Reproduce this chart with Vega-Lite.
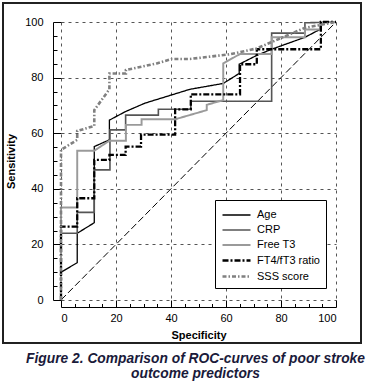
{
  "$schema": "https://vega.github.io/schema/vega-lite/v6.json",
  "width": 275,
  "height": 278,
  "autosize": {"type": "none"},
  "padding": {"left": 61, "top": 22, "right": 30, "bottom": 90},
  "background": "white",
  "config": {
    "view": {"stroke": null},
    "font": "Liberation Sans",
    "axis": {"labelFont": "Liberation Sans", "titleFont": "Liberation Sans", "labelColor": "black", "titleColor": "black"},
    "legend": {"strokeColor": "black", "fillColor": "white"}
  },
  "title": {
    "text": ["Figure 2. Comparison of ROC-curves of poor stroke", "outcome predictors"],
    "orient": "bottom",
    "anchor": "middle",
    "offset": 8,
    "dx": -3,
    "font": "Liberation Sans",
    "fontSize": 13.8,
    "fontStyle": "italic",
    "fontWeight": "bold",
    "color": "#1a1a3a",
    "lineHeight": 14.5
  },
  "datasets": {
    "roc": [
      {"s":"Age","i":0,"x":0,"y":0},{"s":"Age","i":1,"x":0,"y":10},{"s":"Age","i":2,"x":5.9,"y":13.4},{"s":"Age","i":3,"x":5.9,"y":24},{"s":"Age","i":4,"x":12.1,"y":27.8},{"s":"Age","i":5,"x":12.1,"y":55.2},{"s":"Age","i":6,"x":17.6,"y":57.6},{"s":"Age","i":7,"x":17.6,"y":64.7},{"s":"Age","i":8,"x":23.3,"y":67.7},{"s":"Age","i":9,"x":30.5,"y":70.8},{"s":"Age","i":10,"x":46.9,"y":75.8},{"s":"Age","i":11,"x":59,"y":77.9},{"s":"Age","i":12,"x":64.8,"y":81.5},{"s":"Age","i":13,"x":64.8,"y":84.8},{"s":"Age","i":14,"x":71.2,"y":88},{"s":"Age","i":15,"x":76.6,"y":90.2},{"s":"Age","i":16,"x":88.7,"y":94.5},{"s":"Age","i":17,"x":94.5,"y":97.5},{"s":"Age","i":18,"x":94.5,"y":100},{"s":"Age","i":19,"x":100,"y":100},
      {"s":"CRP","i":0,"x":0,"y":0},{"s":"CRP","i":1,"x":0,"y":24},{"s":"CRP","i":2,"x":5.9,"y":24},{"s":"CRP","i":3,"x":5.9,"y":31.5},{"s":"CRP","i":4,"x":12.1,"y":31.5},{"s":"CRP","i":5,"x":12.1,"y":46.8},{"s":"CRP","i":6,"x":17.8,"y":46.8},{"s":"CRP","i":7,"x":17.8,"y":61.2},{"s":"CRP","i":8,"x":23.5,"y":61.2},{"s":"CRP","i":9,"x":23.5,"y":66.5},{"s":"CRP","i":10,"x":35.4,"y":66.5},{"s":"CRP","i":11,"x":35.4,"y":68.6},{"s":"CRP","i":12,"x":47.2,"y":68.6},{"s":"CRP","i":13,"x":47.2,"y":71.5},{"s":"CRP","i":14,"x":76.6,"y":71.5},{"s":"CRP","i":15,"x":76.6,"y":96},{"s":"CRP","i":16,"x":88.7,"y":96},{"s":"CRP","i":17,"x":88.7,"y":99.7},{"s":"CRP","i":18,"x":100,"y":100},
      {"s":"Free T3","i":0,"x":0,"y":0},{"s":"Free T3","i":1,"x":0,"y":33.3},{"s":"Free T3","i":2,"x":5.9,"y":33.3},{"s":"Free T3","i":3,"x":5.9,"y":53.7},{"s":"Free T3","i":4,"x":12.1,"y":53.7},{"s":"Free T3","i":5,"x":17.6,"y":57.3},{"s":"Free T3","i":6,"x":23.6,"y":57.3},{"s":"Free T3","i":7,"x":23.6,"y":63},{"s":"Free T3","i":8,"x":29.3,"y":63},{"s":"Free T3","i":9,"x":29.3,"y":65},{"s":"Free T3","i":10,"x":41.5,"y":65},{"s":"Free T3","i":11,"x":53,"y":68.3},{"s":"Free T3","i":12,"x":53,"y":70.2},{"s":"Free T3","i":13,"x":59,"y":71.9},{"s":"Free T3","i":14,"x":59,"y":85.1},{"s":"Free T3","i":15,"x":65.1,"y":88.5},{"s":"Free T3","i":16,"x":76.6,"y":88.5},{"s":"Free T3","i":17,"x":76.6,"y":94.5},{"s":"Free T3","i":18,"x":88.7,"y":94.5},{"s":"Free T3","i":19,"x":88.7,"y":97.3},{"s":"Free T3","i":20,"x":94.2,"y":97.3},{"s":"Free T3","i":21,"x":94.2,"y":100},{"s":"Free T3","i":22,"x":100,"y":100},
      {"s":"FT4/fT3 ratio","i":0,"x":0,"y":0},{"s":"FT4/fT3 ratio","i":1,"x":0,"y":26.4},{"s":"FT4/fT3 ratio","i":2,"x":5.9,"y":26.4},{"s":"FT4/fT3 ratio","i":3,"x":5.9,"y":36.6},{"s":"FT4/fT3 ratio","i":4,"x":12.1,"y":36.6},{"s":"FT4/fT3 ratio","i":5,"x":12.1,"y":50.4},{"s":"FT4/fT3 ratio","i":6,"x":17.6,"y":50.4},{"s":"FT4/fT3 ratio","i":7,"x":17.6,"y":52.2},{"s":"FT4/fT3 ratio","i":8,"x":23.5,"y":52.2},{"s":"FT4/fT3 ratio","i":9,"x":23.5,"y":55.2},{"s":"FT4/fT3 ratio","i":10,"x":29.1,"y":55.2},{"s":"FT4/fT3 ratio","i":11,"x":29.1,"y":59.5},{"s":"FT4/fT3 ratio","i":12,"x":41.5,"y":59.5},{"s":"FT4/fT3 ratio","i":13,"x":41.5,"y":68.6},{"s":"FT4/fT3 ratio","i":14,"x":47.2,"y":68.6},{"s":"FT4/fT3 ratio","i":15,"x":47.2,"y":74},{"s":"FT4/fT3 ratio","i":16,"x":65.1,"y":74},{"s":"FT4/fT3 ratio","i":17,"x":65.1,"y":84.8},{"s":"FT4/fT3 ratio","i":18,"x":71.2,"y":84.8},{"s":"FT4/fT3 ratio","i":19,"x":71.2,"y":90.2},{"s":"FT4/fT3 ratio","i":20,"x":94.5,"y":90.2},{"s":"FT4/fT3 ratio","i":21,"x":94.5,"y":100},{"s":"FT4/fT3 ratio","i":22,"x":100,"y":100},
      {"s":"SSS score","i":0,"x":0,"y":0},{"s":"SSS score","i":1,"x":0,"y":54},{"s":"SSS score","i":2,"x":5.9,"y":57.6},{"s":"SSS score","i":3,"x":5.9,"y":60.8},{"s":"SSS score","i":4,"x":12.1,"y":62.6},{"s":"SSS score","i":5,"x":12.1,"y":68.3},{"s":"SSS score","i":6,"x":17.6,"y":75.8},{"s":"SSS score","i":7,"x":17.6,"y":81.5},{"s":"SSS score","i":8,"x":23.6,"y":81.5},{"s":"SSS score","i":9,"x":23.6,"y":82.7},{"s":"SSS score","i":10,"x":34.8,"y":85.1},{"s":"SSS score","i":11,"x":40.2,"y":86.7},{"s":"SSS score","i":12,"x":46.9,"y":86.7},{"s":"SSS score","i":13,"x":61.5,"y":88.4},{"s":"SSS score","i":14,"x":71.2,"y":90.5},{"s":"SSS score","i":15,"x":88.7,"y":97.9},{"s":"SSS score","i":16,"x":100,"y":100}
    ],
    "diag": [{"x": 0, "y": 0}, {"x": 100, "y": 100}]
  },
  "data": {"name": "roc"},
  "encoding": {
    "x": {
      "field": "x", "type": "quantitative",
      "scale": {"domain": [0, 100], "nice": false, "zero": false},
      "axis": {
        "title": "Specificity",
        "titleFontSize": 11, "titleFontWeight": "bold", "titlePadding": 6,
        "values": [0,5,10,15,20,25,30,35,40,45,50,55,60,65,70,75,80,85,90,95,100],
        "labelExpr": "datum.value % 20 === 0 ? datum.label : ''",
        "labelFontSize": 11,
        "offset": 7,
        "domainColor": "black", "domainWidth": 1,
        "tickColor": "black", "tickWidth": 1,
        "tickSize": {"condition": {"test": "datum.value % 20 === 0", "value": -7}, "value": -3.5},
        "labelPadding": 12,
        "grid": true,
        "gridColor": "#555555", "gridDash": [3, 4], "gridWidth": 1,
        "gridOpacity": {"condition": {"test": "datum.value % 20 === 0", "value": 1}, "value": 0}
      }
    },
    "y": {
      "field": "y", "type": "quantitative",
      "scale": {"domain": [0, 100], "nice": false, "zero": false},
      "axis": {
        "title": "Sensitivity",
        "titleFontSize": 11, "titleFontWeight": "bold", "titlePadding": 8,
        "values": [0,5,10,15,20,25,30,35,40,45,50,55,60,65,70,75,80,85,90,95,100],
        "labelExpr": "datum.value % 20 === 0 ? datum.label : ''",
        "labelFontSize": 11,
        "offset": 8,
        "domainColor": "black", "domainWidth": 1,
        "tickColor": "black", "tickWidth": 1,
        "tickSize": {"condition": {"test": "datum.value % 20 === 0", "value": -8}, "value": -4},
        "labelPadding": 18,
        "grid": true,
        "gridColor": "#555555", "gridDash": [3, 4], "gridWidth": 1,
        "gridOpacity": {"condition": {"test": "datum.value % 20 === 0", "value": 1}, "value": 0}
      }
    }
  },
  "layer": [
    {
      "mark": {"type": "rect", "filled": false, "fill": null, "stroke": "#222222", "strokeWidth": 1.3, "clip": false},
      "encoding": {
        "x": {"datum": -21.2, "type": "quantitative"},
        "x2": {"datum": 109.1},
        "y": {"datum": 106.9, "type": "quantitative"},
        "y2": {"datum": -15.6}
      }
    },
    {
      "data": {"name": "diag"},
      "mark": {"type": "line", "color": "black", "strokeWidth": 1, "strokeDash": [7, 3]},
      "encoding": {}
    },
    {
      "mark": {"type": "line", "strokeCap": "butt", "strokeJoin": "miter"},
      "encoding": {
        "order": {"field": "i", "type": "quantitative"},
        "color": {
          "field": "s", "type": "nominal",
          "scale": {"domain": ["Age", "CRP", "Free T3", "FT4/fT3 ratio", "SSS score"], "range": ["#000000", "#555555", "#9a9a9a", "#000000", "#808080"]},
          "legend": {
            "title": null, "orient": "none", "legendX": 154, "legendY": 178,
            "padding": 6,
            "symbolType": "M-1,0H2.5", "symbolSize": 256, "labelOffset": 17,
            "labelFontSize": 11, "labelFont": "Liberation Sans", "labelColor": "black", "rowPadding": 1
          }
        },
        "strokeDash": {
          "field": "s", "type": "nominal",
          "scale": {"domain": ["Age", "CRP", "Free T3", "FT4/fT3 ratio", "SSS score"], "range": [[1, 0], [1, 0], [1, 0], [6, 2, 2, 2], [4, 2, 1.5, 2]]},
          "legend": {
            "title": null, "orient": "none", "legendX": 154, "legendY": 178,
            "padding": 6,
            "symbolType": "M-1,0H2.5", "symbolSize": 256, "labelOffset": 17,
            "labelFontSize": 11, "labelFont": "Liberation Sans", "labelColor": "black", "rowPadding": 1
          }
        },
        "strokeWidth": {
          "field": "s", "type": "nominal",
          "scale": {"domain": ["Age", "CRP", "Free T3", "FT4/fT3 ratio", "SSS score"], "range": [1.3, 2.6, 1.4, 2.6, 1.2]},
          "legend": {
            "title": null, "orient": "none", "legendX": 154, "legendY": 178,
            "padding": 6,
            "symbolType": "M-1,0H2.5", "symbolSize": 256, "labelOffset": 17,
            "labelFontSize": 11, "labelFont": "Liberation Sans", "labelColor": "black", "rowPadding": 1
          }
        }
      }
    }
  ]
}
